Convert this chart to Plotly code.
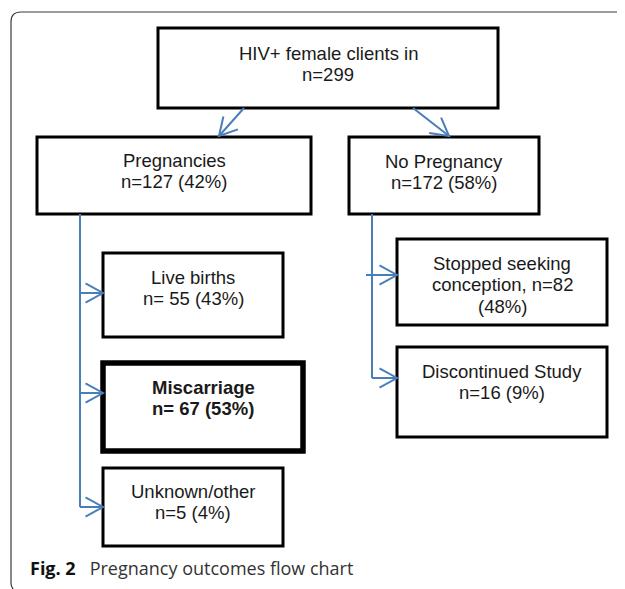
import math
import plotly.graph_objects as go

# ---------------- content ----------------
node_ids = ["root", "preg", "nopreg", "live", "misc", "unk", "stopped", "disc"]
node_lines = [
    ["HIV+ female clients in", "n=299"],
    ["Pregnancies", "n=127 (42%)"],
    ["No Pregnancy", "n=172 (58%)"],
    ["Live births", "n= 55 (43%)"],
    ["Miscarriage", "n= 67 (53%)"],
    ["Unknown/other", "n=5 (4%)"],
    ["Stopped seeking", "conception, n=82", "(48%)"],
    ["Discontinued Study", "n=16 (9%)"],
]
node_bold = [False, False, False, False, True, False, False, False]
caption_label = "Fig. 2"
caption_text = "Pregnancy outcomes flow chart"

# ---------------- layout (pixel space) ----------------
W, H = 625, 589
OFF = 8  # page body margin
box_x0 = [158, 37, 349, 103, 103, 103, 397, 397]
box_x1 = [498, 311, 539, 283, 303, 283, 607, 607]
box_y0 = [28, 137, 137, 253, 363, 468, 239, 347]
box_y1 = [108, 214, 214, 337, 451, 546, 325, 437]
text_y_first = [53, 160, 161, 277, 387, 491, 263, 371]
line_pitch = 21.8
box_width = [3, 3, 3, 3, 5.5, 3, 3, 3]

# connectors: (points, has_head)
connectors = [
    ([(244, 108), (219, 136)], True),
    ([(413, 108), (449, 136)], True),
    ([(80, 214), (80, 507)], False),
    ([(80, 293), (103, 293)], True),
    ([(80, 393), (103, 393)], True),
    ([(80, 507), (103, 507)], True),
    ([(372, 214), (372, 378)], False),
    ([(366, 275), (397, 275)], True),
    ([(372, 378), (397, 378)], True),
]
arrow_color = "#4a7ebb"
text_color = "#1a1a1a"
font_family = "Liberation Sans, Arial, sans-serif"
font_size = 18.5

fig = go.Figure()
shapes = []
annotations = []

# outer frame (rounded top-left / bottom-left)
r = 10
fx, fy = 11, 12
frame_path = (f"M {W+20},{fy} L {fx+r},{fy} Q {fx},{fy} {fx},{fy+r} "
              f"L {fx},{H-6} Q {fx},{H+1} {fx+8},{H+4}")
shapes.append(dict(type="path", path=frame_path, xref="x", yref="y",
                   line=dict(color="#3a3a3a", width=1.2)))

# boxes
for i, nid in enumerate(node_ids):
    shapes.append(dict(type="rect", xref="x", yref="y",
                       x0=box_x0[i], x1=box_x1[i], y0=box_y0[i], y1=box_y1[i],
                       line=dict(color="#000000", width=box_width[i]),
                       fillcolor="white"))
    cx = (box_x0[i] + box_x1[i]) / 2
    for k, ln in enumerate(node_lines[i]):
        txt = f"<b>{ln}</b>" if node_bold[i] else ln
        annotations.append(dict(x=cx, y=text_y_first[i] + k * line_pitch,
                                xref="x", yref="y", text=txt, showarrow=False,
                                xanchor="center", yanchor="middle",
                                font=dict(family=font_family, size=font_size,
                                          color=text_color)))

# connectors
for pts, head in connectors:
    path = "M " + " L ".join(f"{x},{y}" for x, y in pts)
    shapes.append(dict(type="path", path=path, xref="x", yref="y",
                       line=dict(color=arrow_color, width=2)))
    if head:
        (x0, y0), (x1, y1) = pts[-2], pts[-1]
        ang = math.atan2(y0 - y1, x0 - x1)
        L, a = 20, math.radians(29)
        p1 = (x1 + L * math.cos(ang + a), y1 + L * math.sin(ang + a))
        p2 = (x1 + L * math.cos(ang - a), y1 + L * math.sin(ang - a))
        hp = f"M {p1[0]:.1f},{p1[1]:.1f} L {x1},{y1} L {p2[0]:.1f},{p2[1]:.1f}"
        shapes.append(dict(type="path", path=hp, xref="x", yref="y",
                           line=dict(color=arrow_color, width=2)))

# caption
annotations.append(dict(x=28, y=568, xref="x", yref="y", showarrow=False,
                        xanchor="left", yanchor="middle",
                        text=f"<b>{caption_label}</b>   <span style='color:#333333'>{caption_text}</span>",
                        font=dict(family="Open Sans, Lato, sans-serif", size=18,
                                  color="#111111")))

fig.update_layout(
    width=W, height=H, margin=dict(l=0, r=0, t=0, b=0),
    paper_bgcolor="white", plot_bgcolor="white",
    xaxis=dict(range=[OFF, W + OFF], visible=False, fixedrange=True),
    yaxis=dict(range=[H + OFF, OFF], visible=False, fixedrange=True),
    shapes=shapes, annotations=annotations, showlegend=False,
)
fig.write_html("out.html")
